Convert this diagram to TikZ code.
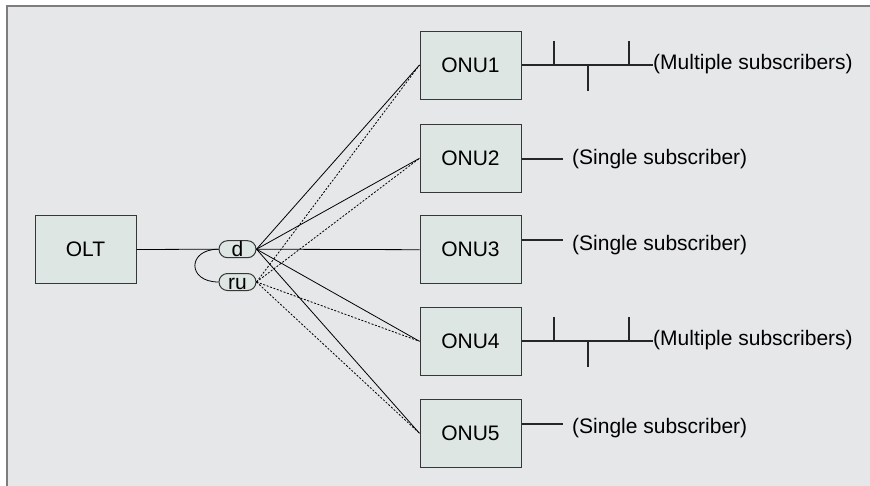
\documentclass[tikz,border=0pt]{standalone}
\usepackage{fontspec}
\setmainfont{Liberation Sans}
\usetikzlibrary{shapes.misc,calc}
\definecolor{bgc}{RGB}{230,231,233}
\definecolor{boxfill}{RGB}{221,230,226}
\definecolor{edgec}{RGB}{55,55,55}
\definecolor{framec}{RGB}{125,125,125}
\begin{document}
\begin{tikzpicture}[x=1pt,y=-1pt,
  txt/.style={font=\fontsize{21}{24}\selectfont},
  unit/.style={txt, draw=edgec, line width=1pt, fill=boxfill, minimum width=101pt, minimum height=68pt, inner sep=0pt},
  pill/.style={txt, draw=edgec, line width=1pt, fill=boxfill, rounded rectangle, minimum width=37pt, minimum height=17pt, inner sep=0pt, text height=14pt, text depth=0pt},
  fiber/.style={line width=0.8pt, black},
  rfiber/.style={line width=0.8pt, black, dash pattern=on 2pt off 1.6pt},
  subline/.style={line width=2.3pt, black!85},
  lbl/.style={txt, anchor=west, inner sep=0pt}]
\useasboundingbox (0,0) rectangle (870,485);
\fill[white] (0,0) rectangle (870,485);
\draw[fill=bgc, draw=framec, line width=1.2pt] (7,6) rectangle (880,495);

\node[unit] (OLT) at (85.5,249.5) {OLT};
\node[pill] (d) at (237.5,249.2) {d};
\node[pill] (ru) at (237.5,282) {ru};

\node[unit] (ONU1) at (470.5,65) {ONU1};
\node[unit] (ONU2) at (470.5,158.3) {ONU2};
\node[unit] (ONU3) at (470.5,249.7) {ONU3};
\node[unit] (ONU4) at (470.5,341.3) {ONU4};
\node[unit] (ONU5) at (470.5,433.3) {ONU5};

\draw[fiber] (OLT.east) -- (d.west);
\draw[fiber] (d.west) .. controls (187,249.2) and (187,282) .. (ru.west);

\foreach \n in {1,2,3,4,5} {
  \draw[fiber] (d.east) -- (ONU\n.west);
}
\foreach \n in {1,2,4,5} {
  \draw[rfiber] (ru.east) -- (ONU\n.west);
}

% multiple subscribers
\node[lbl] (m1) at (653,64) {(Multiple subscribers)};
\node[lbl] (m4) at (653,340.5) {(Multiple subscribers)};
\foreach \n/\m in {1/m1,4/m4} {
  \draw[subline] (ONU\n.east) -- (ONU\n.east -| \m.west);
  \draw[subline] ($(ONU\n.east)+(32.5,0)$) -- ++(0,-24.5);
  \draw[subline] ($(ONU\n.east)+(66.5,0)$) -- ++(0,25.5);
  \draw[subline] ($(ONU\n.east)+(107.5,0)$) -- ++(0,-24.5);
}

% single subscribers
\node[lbl] (s2) at (572,159) {(Single subscriber)};
\node[lbl] (s3) at (572,245) {(Single subscriber)};
\node[lbl] (s5) at (572,428) {(Single subscriber)};
\draw[subline] ([yshift=-1pt]ONU2.east) -- ++(41,0);
\draw[subline] ([yshift=9.7pt]ONU3.east) -- ++(41,0);
\draw[subline] ([yshift=9.3pt]ONU5.east) -- ++(41,0);
\end{tikzpicture}
\end{document}
